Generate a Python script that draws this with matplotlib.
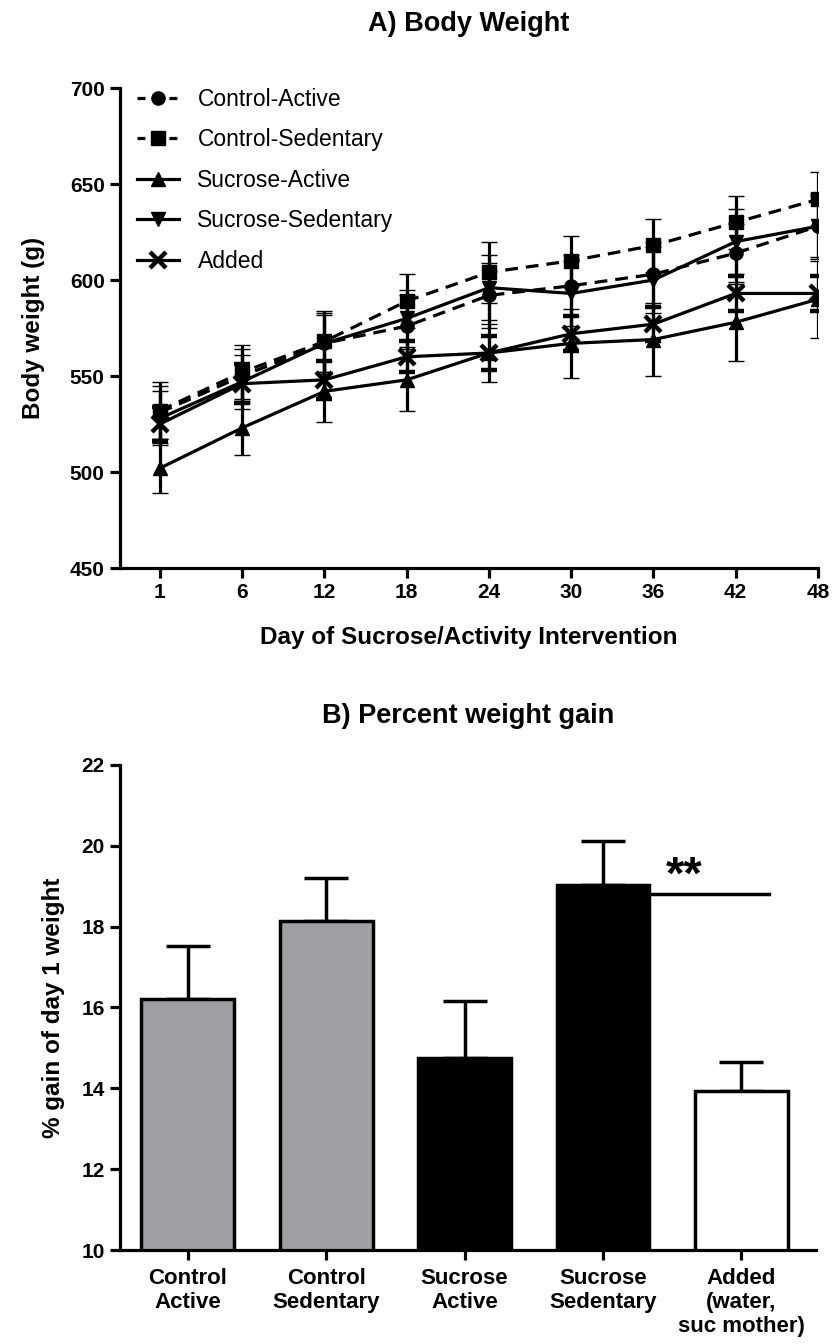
import matplotlib
matplotlib.use('Agg')
import matplotlib.pyplot as plt
from matplotlib.lines import Line2D
import numpy as np

plt.rcParams['font.family'] = ['Liberation Sans', 'DejaVu Sans']

# ---- panel A data ----
days = ['1', '6', '12', '18', '24', '30', '36', '42', '48']
ctrl_active = [531, 550, 567, 576, 592, 597, 603, 614, 628]
ctrl_sed = [532, 552, 568, 589, 604, 610, 618, 630, 642]
suc_active = [502, 523, 542, 548, 562, 567, 569, 578, 590]
suc_sed = [528, 547, 567, 580, 596, 593, 600, 620, 628]
added = [525, 546, 548, 560, 562, 572, 577, 593, 593]

ctrl_active_err = [14, 14, 16, 16, 17, 16, 17, 15, 16]
ctrl_sed_err = [15, 14, 16, 14, 16, 13, 14, 14, 14]
suc_active_err = [13, 14, 16, 16, 15, 18, 19, 20, 20]
suc_sed_err = [14, 14, 15, 15, 17, 17, 17, 17, 17]
added_err = [9, 10, 10, 8, 9, 9, 9, 9, 9]

# ---- panel B data ----
groups = ['Control\nActive', 'Control\nSedentary', 'Sucrose\nActive',
          'Sucrose\nSedentary', 'Added\n(water,\nsuc mother)']
gain = [16.2, 18.15, 14.75, 19.03, 13.93]
gain_err = [1.33, 1.06, 1.4, 1.1, 0.72]
bar_colors = ['#a09fa4', '#a09fa4', 'black', 'black', 'white']

fig = plt.figure(figsize=(8.35, 13.44), dpi=100)

def style_axes(ax):
    for s in ['top', 'right']:
        ax.spines[s].set_visible(False)
    for s in ['left', 'bottom']:
        ax.spines[s].set_linewidth(2.3)
    ax.tick_params(direction='out', length=7, width=2.3, labelsize=15, pad=4)
    for lbl in ax.get_xticklabels() + ax.get_yticklabels():
        lbl.set_fontweight('bold')

# ---------- A) Body Weight ----------
ax1 = fig.add_axes([120/835, 1-568/1344, (818-120)/835, (568-88)/1344])
x = np.arange(len(days))
series = [
    (ctrl_active, ctrl_active_err, 'o', '--', 'Control-Active'),
    (ctrl_sed, ctrl_sed_err, 's', '--', 'Control-Sedentary'),
    (suc_active, suc_active_err, '^', '-', 'Sucrose-Active'),
    (suc_sed, suc_sed_err, 'v', '-', 'Sucrose-Sedentary'),
    (added, added_err, 'x', '-', 'Added'),
]
handles = []
for vals, err, mk, ls, lab in series:
    ms = 11 if mk == 'x' else 9.5
    mew = 3.2 if mk == 'x' else 1
    dash = (4, 2.5) if ls == '--' else (None, None)
    ax1.errorbar(x, vals, yerr=err, color='black', marker=mk, markersize=ms,
                 markeredgewidth=mew, linestyle=ls, linewidth=2.3, dashes=dash,
                 elinewidth=2.3, capsize=6, capthick=2.6)
    h = Line2D([], [], color='black', marker=mk, markersize=ms, markeredgewidth=mew,
               linestyle=ls, linewidth=2.3, label=lab)
    if ls == '--':
        h.set_dashes((2.5, 2.5))
    handles.append(h)
ax1.set_xlim(-0.486, 8)
ax1.set_ylim(450, 700)
ax1.set_yticks([450, 500, 550, 600, 650, 700])
ax1.set_xticks(x)
ax1.set_xticklabels(days)
style_axes(ax1)
ax1.set_xlabel('Day of Sucrose/Activity Intervention', fontsize=17.5,
               fontweight='bold', labelpad=17)
ax1.set_ylabel('Body weight (g)', fontsize=17.5, fontweight='bold', labelpad=18)
ax1.set_title('A) Body Weight', fontsize=19.5, fontweight='bold', pad=41)

ax1.legend(handles=handles, loc='upper left', bbox_to_anchor=(0.024, 1.0),
           frameon=False, fontsize=16.5, handlelength=1.85, handletextpad=0.8,
           labelspacing=0.76, borderpad=0, borderaxespad=0)

# ---------- B) Percent weight gain ----------
ax2 = fig.add_axes([120/835, 1-1250/1344, (816-120)/835, (1250-765)/1344])
xb = np.arange(len(groups))
ax2.bar(xb, gain, width=0.67, color=bar_colors, edgecolor='black', linewidth=2.5,
        zorder=2)
ax2.errorbar(xb, gain, yerr=[np.zeros(len(gain)), gain_err], fmt='none',
             ecolor='black', elinewidth=2.5, capsize=16, capthick=2.5, zorder=1)
ax2.set_xlim(-0.49, 4.54)
ax2.set_ylim(10, 22)
ax2.set_yticks(np.arange(10, 23, 2))
ax2.set_xticks(xb)
ax2.set_xticklabels(groups, linespacing=1.2)
style_axes(ax2)
ax2.tick_params(axis='x', pad=6, labelsize=16)
ax2.set_ylabel('% gain of day 1 weight', fontsize=17.5, fontweight='bold', labelpad=12)
ax2.set_title('B) Percent weight gain', fontsize=19.5, fontweight='bold', pad=30)

# significance bar
ax2.plot([3 + 0.335, 4.2], [18.82, 18.82], color='black', lw=2.5, zorder=3)
ax2.text(3.587, 18.95, '**', ha='center', va='baseline', fontsize=34, fontweight='bold')

fig.savefig('out.png', dpi=100)
